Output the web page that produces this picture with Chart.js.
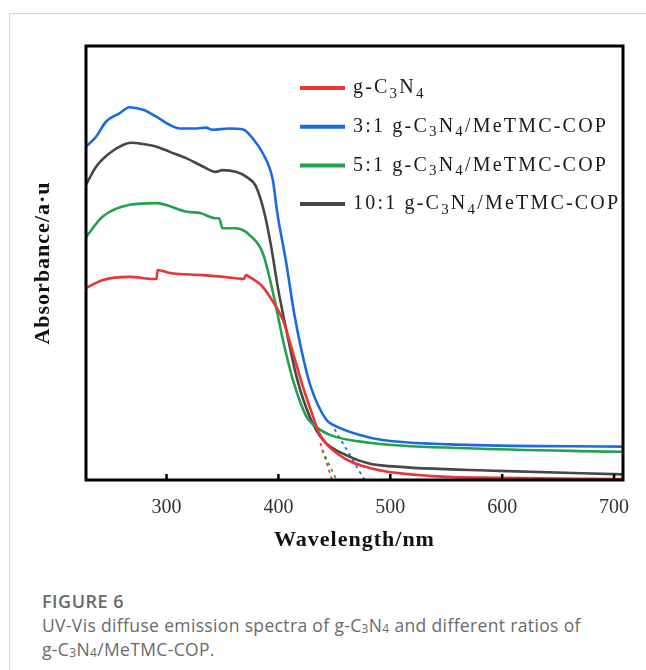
<!DOCTYPE html>
<html>
<head>
<meta charset="utf-8">
<script src="https://cdn.jsdelivr.net/npm/chart.js@4"></script>
<style>
  html, body { margin: 0; padding: 0; background: #fff; overflow: hidden; }
  #wrap { position: relative; width: 646px; height: 670px; }
  #frame { position: absolute; left: 9px; top: 13px; width: 700px; height: 700px; border: 1px solid #d6d6d6; }
  #chart { position: absolute; left: 0; top: 0; }
  #cap { position: absolute; left: 42px; top: 589px; font-family: "Open Sans", sans-serif; color: #6a6a6a; }
  #cap .fig { font-size: 18px; font-weight: 600; line-height: 24px; letter-spacing: 0.5px; }
  #cap .txt { font-size: 17.5px; line-height: 24px; letter-spacing: 0.35px; }
  #cap sub { font-size: 12px; vertical-align: -1px; line-height: 0; }
</style>
</head>
<body>
<div id="wrap">
  <div id="frame"></div>
  <canvas id="chart" width="646" height="560"></canvas>
  <div id="cap">
    <div class="fig">FIGURE 6</div>
    <div class="txt">UV-Vis diffuse emission spectra of g-C<sub>3</sub>N<sub>4</sub> and different ratios of<br>g-C<sub>3</sub>N<sub>4</sub>/MeTMC-COP.</div>
  </div>
</div>
<script>
// values (wavelength in nm, absorbance in a.u.)
const redWl = [228, 243, 267, 289, 291, 292, 303, 332, 362, 369, 371, 374, 386, 396, 404, 413, 422, 431, 436, 452, 481, 538, 597, 708];
const redAbs = [0.442, 0.461, 0.468, 0.463, 0.463, 0.484, 0.477, 0.472, 0.465, 0.463, 0.472, 0.468, 0.445, 0.407, 0.369, 0.293, 0.214, 0.146, 0.110, 0.062, 0.028, 0.009, 0.005, 0.002];

const blueWl = [228, 237, 246, 258, 267, 279, 291, 303, 312, 327, 335, 341, 356, 368, 377, 386, 395, 399, 407, 414, 422, 429, 443, 449, 472, 493, 568, 708];
const blueAbs = [0.768, 0.791, 0.826, 0.845, 0.859, 0.853, 0.837, 0.818, 0.810, 0.810, 0.812, 0.807, 0.810, 0.808, 0.787, 0.753, 0.691, 0.615, 0.500, 0.385, 0.283, 0.214, 0.138, 0.127, 0.104, 0.092, 0.081, 0.077];

const greenWl = [228, 243, 267, 291, 318, 330, 344, 347, 350, 362, 368, 374, 386, 396, 404, 413, 425, 431, 446, 481, 568, 708];
const greenAbs = [0.560, 0.607, 0.634, 0.638, 0.618, 0.615, 0.603, 0.603, 0.580, 0.580, 0.576, 0.565, 0.523, 0.422, 0.323, 0.230, 0.146, 0.128, 0.104, 0.086, 0.073, 0.065];

const blackWl = [228, 237, 249, 261, 268.5, 279, 291, 303, 318, 332, 344, 350, 362, 371, 380, 387.5, 393.5, 399.4, 407, 417, 428, 440, 460, 481, 499, 597, 708];
const blackAbs = [0.680, 0.722, 0.753, 0.772, 0.777, 0.774, 0.768, 0.756, 0.741, 0.723, 0.710, 0.714, 0.710, 0.699, 0.676, 0.615, 0.538, 0.445, 0.346, 0.230, 0.146, 0.092, 0.058, 0.038, 0.032, 0.021, 0.013];

// band edge tangent lines (dashed)
const redTanWl = [437.5, 448];
const redTanAbs = [0.085, 0];
const greenTanWl = [439, 452];
const greenTanAbs = [0.069, 0];
const blueTanWl = [447, 477];
const blueTanAbs = [0.131, 0];

const xTicks = [300, 400, 500, 600, 700];
const seriesLabels = ["g-C3N4", "3:1 g-C3N4/MeTMC-COP", "5:1 g-C3N4/MeTMC-COP", "10:1 g-C3N4/MeTMC-COP"];
const seriesColors = ["#ec3434", "#1b6be0", "#25a04e", "#474747"];

function pts(xs, ys) {
  return xs.map((x, i) => ({ x: x, y: ys[i] }));
}

function curve(label, xs, ys, color) {
  return {
    label: label,
    data: pts(xs, ys),
    borderColor: color,
    borderWidth: 2.6,
    pointRadius: 0,
    cubicInterpolationMode: "monotone",
    fill: false,
  };
}

function tangent(xs, ys, color) {
  return {
    label: "",
    data: pts(xs, ys),
    borderColor: color,
    borderWidth: 1.8,
    borderDash: [3, 4],
    pointRadius: 0,
    fill: false,
  };
}

// text with chemical subscripts (digit after an upper-case letter)
function drawFormula(ctx, text, x, y, size) {
  let cx = x;
  for (let i = 0; i < text.length; i++) {
    const ch = text[i];
    const sub = /[0-9]/.test(ch) && i > 0 && /[A-Z]/.test(text[i - 1]);
    ctx.font = (sub ? size * 0.75 : size) + 'px "Liberation Serif", "Times New Roman", serif';
    ctx.fillText(ch, cx, sub ? y + size * 0.28 : y);
    cx += ctx.measureText(ch).width + 2.2;
  }
}

const decor = {
  id: "decor",
  afterDatasetsDraw(chart) {
    const ctx = chart.ctx;
    const a = chart.chartArea;
    const xs = chart.scales.x;
    ctx.save();
    // tick marks pointing inward
    ctx.strokeStyle = "#000";
    ctx.lineWidth = 2.5;
    xTicks.forEach((v) => {
      const px = xs.getPixelForValue(v);
      ctx.beginPath();
      ctx.moveTo(px, a.bottom);
      ctx.lineTo(px, a.bottom - 6);
      ctx.stroke();
    });
    // frame
    ctx.lineWidth = 3;
    ctx.strokeRect(a.left, a.top, a.right - a.left, a.bottom - a.top);

    // legend
    ctx.textBaseline = "middle";
    ctx.fillStyle = "#1a1a1a";
    seriesLabels.forEach((lab, i) => {
      const y = a.top + 42 + i * 38.7;
      ctx.strokeStyle = seriesColors[i];
      ctx.lineWidth = 4;
      ctx.beginPath();
      ctx.moveTo(300, y);
      ctx.lineTo(345, y);
      ctx.stroke();
      drawFormula(ctx, lab, 353, y, 20);
    });

    // axis titles
    ctx.fillStyle = "#111";
    ctx.textAlign = "center";
    ctx.font = 'bold 22px "Liberation Serif", serif';
    ctx.letterSpacing = "1px";
    ctx.fillText("Wavelength/nm", (a.left + a.right) / 2, 540);
    ctx.translate(43, (a.top + a.bottom) / 2);
    ctx.rotate(-Math.PI / 2);
    ctx.fillText("Absorbance/a\u00b7u", 0, 0);
    ctx.restore();
  },
};

new Chart(document.getElementById("chart"), {
  type: "line",
  data: {
    datasets: [
      curve(seriesLabels[0], redWl, redAbs, seriesColors[0]),
      curve(seriesLabels[1], blueWl, blueAbs, seriesColors[1]),
      curve(seriesLabels[2], greenWl, greenAbs, seriesColors[2]),
      curve(seriesLabels[3], blackWl, blackAbs, seriesColors[3]),
      tangent(redTanWl, redTanAbs, seriesColors[0]),
      tangent(greenTanWl, greenTanAbs, seriesColors[2]),
      tangent(blueTanWl, blueTanAbs, seriesColors[1]),
    ],
  },
  options: {
    responsive: false,
    animation: false,
    layout: { padding: { top: 46, right: 23, left: 0, bottom: 0 } },
    plugins: {
      legend: { display: false },
      tooltip: { enabled: false },
    },
    scales: {
      x: {
        type: "linear",
        min: 228,
        max: 708,
        afterBuildTicks: (s) => {
          s.ticks = xTicks.map((v) => ({ value: v }));
        },
        afterFit: (s) => {
          s.height = 80;
        },
        grid: { display: false },
        border: { display: false },
        ticks: {
          padding: 8,
          color: "#333",
          font: { family: '"Liberation Serif", "Times New Roman", serif', size: 20 },
        },
      },
      y: {
        min: 0,
        max: 1,
        afterFit: (s) => {
          s.width = 86;
        },
        grid: { display: false },
        border: { display: false },
        ticks: { display: false },
      },
    },
  },
  plugins: [decor],
});
</script>
</body>
</html>
